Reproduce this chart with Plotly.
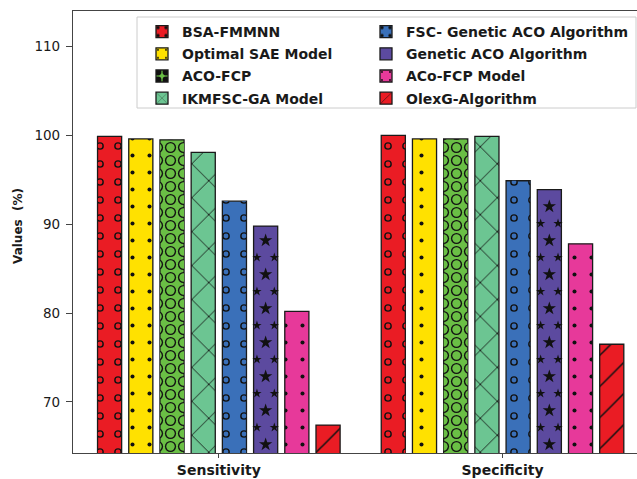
import plotly.graph_objects as go

# ---------------- data ----------------
categories = ["Sensitivity", "Specificity"]
models = ["BSA-FMMNN", "Optimal SAE Model", "ACO-FCP", "IKMFSC-GA Model",
          "FSC- Genetic ACO Algorithm", "Genetic ACO Algorithm", "ACo-FCP Model",
          "OlexG-Algorithm"]
bsa_fmmnn = [99.9, 100.0]
optimal_sae = [99.6, 99.6]
aco_fcp = [99.5, 99.6]
ikmfsc_ga = [98.1, 99.9]
fsc_genetic_aco = [92.6, 94.9]
genetic_aco = [89.8, 93.9]
aco_fcp_model = [80.2, 87.8]
olexg = [67.4, 76.5]
series = [bsa_fmmnn, optimal_sae, aco_fcp, ikmfsc_ga, fsc_genetic_aco,
          genetic_aco, aco_fcp_model, olexg]
y_ticks = [70, 80, 90, 100, 110]

# ---------------- styles ----------------
colors = ["#ea1c24", "#ffe100", "#6abf45", "#6cc592", "#3a70b9", "#5c4a9f",
          "#e7399a", "#ea1c24"]
# (shape, size, outer solidity, inner solidity for rings)
patterns = [
    ("ring", 18, 0.145, 0.058),
    ("dot", 17, 0.045, None),
    ("ring", 13, 0.58, 0.33),
    ("x", 24, 0.07, None),
    ("ring", 18, 0.145, 0.058),
    ("star", None, None, None),
    ("dot", 17, 0.045, None),
    ("/", 22, 0.07, None),
]

W, H = 637, 479
ML, MR, MT, MB = 73, 0, 11, 26
PW, PH = W - ML - MR, H - MT - MB
YR = [64.26, 114.0]
XR = [-0.514, 1.474]
pitch = 0.110
bw = 0.085
n = len(models)
font = "DejaVu Sans"


def px_x(px):
    return (px - ML) / PW


def px_y(py):
    return (H - MB - py) / PH


fig = go.Figure()
for i, (name, vals, col, pat) in enumerate(zip(models, series, colors, patterns)):
    off = (i - (n - 1) / 2) * pitch
    xs = [k + off for k in range(len(categories))]
    shape, size, sol, inner = pat
    marker = dict(color=col, line=dict(color="#1a1a1a", width=1.3))
    if shape in ("ring", "dot"):
        marker["pattern"] = dict(shape=".", size=size, solidity=sol,
                                 fgcolor="#111111", fgopacity=1, fillmode="overlay")
    elif shape in ("x", "/"):
        marker["pattern"] = dict(shape=shape, size=size, solidity=sol,
                                 fgcolor="#111111", fgopacity=1, fillmode="overlay")
    fig.add_trace(go.Bar(
        x=xs, y=vals, width=bw, name=name, marker=marker,
        legend="legend" if i < 4 else "legend2", legendgroup=name,
        showlegend=True, hoverinfo="skip"))
    if shape == "ring":
        fig.add_trace(go.Bar(
            x=xs, y=vals, width=bw, showlegend=False, hoverinfo="skip",
            marker=dict(color="rgba(0,0,0,0)", line=dict(width=0),
                        pattern=dict(shape=".", size=size, solidity=inner,
                                     fgcolor=col, fgopacity=1, fillmode="overlay"))))
    if shape == "star":
        step = 17 * (YR[1] - YR[0]) / PH
        cx, cy, ex, ey = [], [], [], []
        half = bw * 0.36
        for k, v in enumerate(vals):
            yv = YR[0] + step * 0.5
            row = 0
            while yv < v - step * 0.35:
                if row % 2 == 0:
                    cx.append(k + off)
                    cy.append(yv)
                else:
                    ex += [k + off - half, k + off + half]
                    ey += [yv, yv]
                yv += step
                row += 1
        fig.add_trace(go.Scatter(
            x=cx, y=cy, mode="markers", showlegend=False, hoverinfo="skip",
            marker=dict(symbol="star", size=10, color="#111111", line=dict(width=0))))
        fig.add_trace(go.Scatter(
            x=ex, y=ey, mode="markers", showlegend=False, hoverinfo="skip",
            marker=dict(symbol="star", size=7, color="#111111", line=dict(width=0))))

fig.add_shape(type="rect", xref="paper", yref="paper",
              x0=px_x(137), x1=px_x(636), y0=px_y(108), y1=px_y(17),
              line=dict(color="#cccccc", width=1), fillcolor="white", layer="above")

legend_common = dict(
    orientation="v", bgcolor="rgba(0,0,0,0)", borderwidth=0,
    font=dict(family=font, size=14, color="#1a1a1a", weight="bold"),
    tracegroupgap=1, yanchor="top", xanchor="left", itemclick=False,
)
fig.update_layout(
    legend=dict(x=px_x(142), y=px_y(16), **legend_common),
    legend2=dict(x=px_x(366), y=px_y(16), **legend_common),
)

fig.add_annotation(text="<b>Values  (%)</b>", xref="paper", yref="paper",
                   x=px_x(18), y=px_y(226), textangle=-90, showarrow=False,
                   font=dict(family=font, size=12, color="#1a1a1a"),
                   xanchor="center", yanchor="middle")

fig.update_layout(
    width=W, height=H, barmode="overlay",
    margin=dict(l=ML, r=MR, t=MT, b=MB, pad=0),
    paper_bgcolor="white", plot_bgcolor="white",
    font=dict(family=font, color="#1a1a1a"),
    xaxis=dict(range=XR, tickvals=list(range(len(categories))),
               ticktext=["<b>%s</b>" % c for c in categories],
               showgrid=False, zeroline=False, showline=True, mirror=True,
               linecolor="#444444", linewidth=1.2, ticks="outside", ticklen=4,
               tickcolor="#444444", tickfont=dict(family=font, size=14, color="#1a1a1a")),
    yaxis=dict(range=YR, tickvals=y_ticks, showgrid=False, zeroline=False,
               showline=True, linecolor="#444444", linewidth=1.2, ticks="outside",
               ticklen=6, tickcolor="#444444", ticklabelstandoff=3,
               tickfont=dict(family=font, size=13.5, color="#1a1a1a")),
)

fig.write_html("out.html", config={"displayModeBar": False},
               post_script="document.body.style.margin='0';document.body.style.overflow='hidden';")
